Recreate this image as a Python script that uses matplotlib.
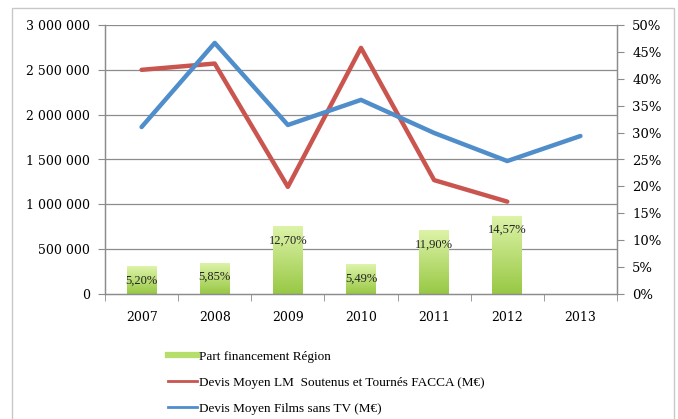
import matplotlib
matplotlib.use('Agg')
import matplotlib.pyplot as plt
import matplotlib.patches as mpatches
from matplotlib.lines import Line2D
from matplotlib.ticker import FuncFormatter, MultipleLocator
import numpy as np

# Data
years = ['2007', '2008', '2009', '2010', '2011', '2012', '2013']
part_region = [5.20, 5.85, 12.70, 5.49, 11.90, 14.57, np.nan]
devis_facca = [2500000, 2570000, 1195000, 2745000, 1270000, 1030000, np.nan]
devis_sans_tv = [1862000, 2800000, 1885000, 2165000, 1796000, 1483000, 1762000]
bar_labels = ['5,20%', '5,85%', '12,70%', '5,49%', '11,90%', '14,57%', '']

RED = '#c9554e'
BLUE = '#4f8dcb'
GRID = '#8c8c8c'
plt.rcParams['font.family'] = 'DejaVu Serif'

fig = plt.figure(figsize=(6.78, 4.19), dpi=100)
ax = fig.add_axes([105/678, 1 - 294/419, 512/678, 269/419])
ax2 = ax.twinx()

x = np.arange(len(years))

# bars on the percent axis, with a green gradient
bars = ax2.bar(x, part_region, width=0.41, color='none', edgecolor='none', zorder=2)
grad = np.linspace(0, 1, 256).reshape(-1, 1)
cmap = matplotlib.colors.LinearSegmentedColormap.from_list('g', ['#98c844', '#def4aa'])
for bar, lab in zip(bars, bar_labels):
    h = bar.get_height()
    if np.isnan(h):
        continue
    x0 = bar.get_x()
    w = bar.get_width()
    im = ax2.imshow(grad, extent=(x0, x0 + w, 0, h), origin='lower', cmap=cmap,
                    aspect='auto', zorder=2)
    im.set_clip_path(bar)
    ax2.annotate(lab, (x0 + w/2, h), xytext=(0, -10.5), textcoords='offset points',
                 ha='center', va='center', fontsize=9, family='Liberation Serif',
                 color='#222222', zorder=3)

ax2.set_ylim(0, 50)
ax2.yaxis.set_major_locator(MultipleLocator(5))
ax2.yaxis.set_major_formatter(FuncFormatter(lambda v, p: f'{v:.0f}%'))
ax2.set_xlim(-0.5, len(years) - 0.5)

# lines on the value axis, drawn above the bars
ax.set_zorder(ax2.get_zorder() + 1)
ax.patch.set_visible(False)
ax.plot(x, devis_facca, color=RED, lw=3.2, solid_capstyle='round', zorder=4)
ax.plot(x, devis_sans_tv, color=BLUE, lw=3.2, solid_capstyle='round', zorder=4)
ax.set_ylim(0, 3000000)
ax.yaxis.set_major_locator(MultipleLocator(500000))
ax.yaxis.set_major_formatter(FuncFormatter(lambda v, p: f'{int(v):,}'.replace(',', ' ')))
ax.set_xlim(-0.5, len(years) - 0.5)

# gridlines belong to the value axis but sit behind the bars
for v in np.arange(500000, 3000001, 500000):
    ax2.axhline(v / 3000000 * 50, color=GRID, lw=0.9, zorder=1)

ax.set_xticks(x)
ax.set_xticklabels(years)
ax.set_xticks(np.arange(-0.5, len(years)), minor=True)
ax.tick_params(axis='x', which='major', length=0, pad=12, labelsize=9)
ax.tick_params(axis='x', which='minor', length=5, color=GRID, direction='out')
ax.tick_params(axis='y', length=5, color=GRID, labelsize=9, pad=6)
ax2.tick_params(axis='y', length=5, color=GRID, labelsize=9.5, pad=6)

for a in (ax, ax2):
    a.spines['top'].set_visible(False)
    for s in ('left', 'right', 'bottom'):
        a.spines[s].set_color(GRID)
        a.spines[s].set_linewidth(0.9)

# legend under the plot
handles = [
    Line2D([0], [0], color='#b5de6a', lw=4.5),
    Line2D([0], [0], color=RED, lw=2),
    Line2D([0], [0], color=BLUE, lw=2),
]
labels = ['Part financement Région',
          'Devis Moyen LM  Soutenus et Tournés FACCA (M€)',
          'Devis Moyen Films sans TV (M€)']
fig.legend(handles, labels, loc='upper left', bbox_to_anchor=(163/678, 1 - 345/419),
           frameon=False, prop={'family': 'Liberation Serif', 'size': 9.5},
           handlelength=2.2, handletextpad=0.1, labelspacing=1.05, borderaxespad=0)

# light frame of the chart area
fig.patches.append(mpatches.Rectangle((12/678, -0.05), 662/678, 1 - 8/419 + 0.05,
                                      transform=fig.transFigure, fill=False,
                                      edgecolor='#c8c8c8', lw=1))

fig.savefig('out.png', dpi=100)
